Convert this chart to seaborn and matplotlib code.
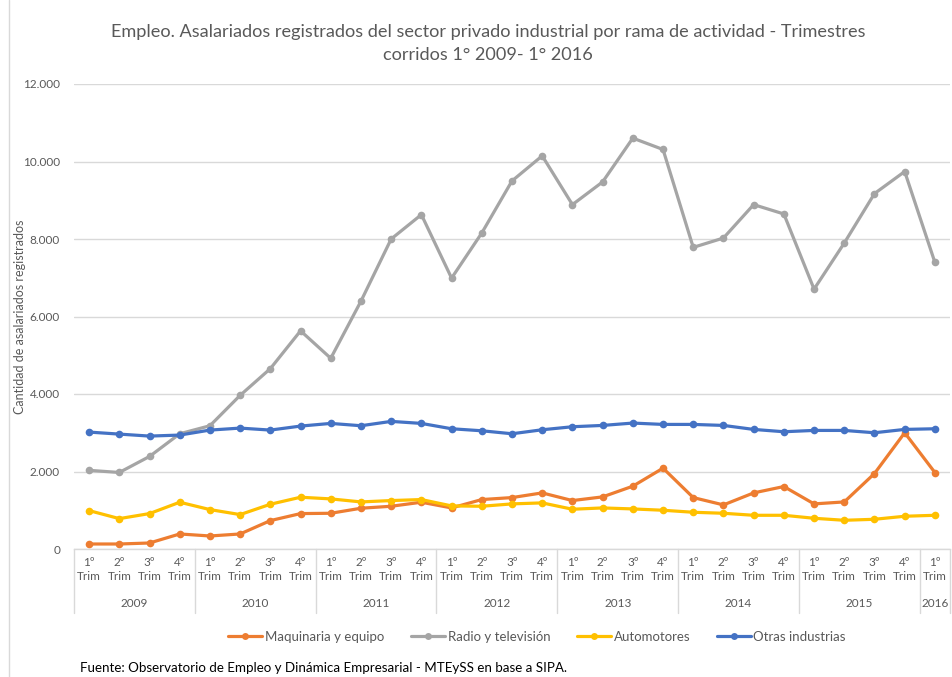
import numpy as np
import pandas as pd
import seaborn as sns
import matplotlib.pyplot as plt
from matplotlib.lines import Line2D
import matplotlib.transforms as mtransforms

sns.set_theme(style='white')
plt.rcParams['font.family'] = ['Lato', 'DejaVu Sans']

# Data: quarters 1º 2009 .. 1º 2016
years = ['2009', '2010', '2011', '2012', '2013', '2014', '2015', '2016']
quarter_labels = ['1º\nTrim', '2º\nTrim', '3º\nTrim', '4º\nTrim'] * 7 + ['1º\nTrim']

maquinaria = [129, 129, 155, 388, 336, 388, 733, 914,
              922, 1052, 1103, 1207, 1060, 1276, 1327, 1448,
              1250, 1345, 1621, 2086, 1327, 1138, 1448, 1612,
              1164, 1215, 1948, 3000, 1974]
radio_tv = [2030, 1975, 2388, 2974, 3181, 3965, 4655, 5630,
            4922, 6396, 8000, 8629, 6991, 8155, 9499, 10146,
            8887, 9473, 10603, 10310, 7784, 8025, 8887, 8646,
            6706, 7896, 9172, 9741, 7396]
automotores = [991, 784, 914, 1207, 1017, 888, 1155, 1336,
               1293, 1215, 1250, 1276, 1112, 1103, 1164, 1190,
               1026, 1060, 1034, 1000, 948, 922, 870, 870,
               793, 741, 767, 845, 870]
otras = [3017, 2965, 2914, 2940, 3069, 3120, 3069, 3172,
         3241, 3181, 3293, 3241, 3103, 3051, 2974, 3077,
         3155, 3189, 3250, 3215, 3215, 3189, 3086, 3026,
         3060, 3060, 3000, 3086, 3103]

series_names = ['Maquinaria y equipo', 'Radio y televisión', 'Automotores', 'Otras industrias']
series_colors = ['#ED7D31', '#A5A5A5', '#FFC000', '#4472C4']

n = len(quarter_labels)
df = pd.DataFrame({
    'idx': list(range(n)) * 4,
    'valor': maquinaria + radio_tv + automotores + otras,
    'serie': [s for s in series_names for _ in range(n)],
})

fig = plt.figure(figsize=(9.52, 6.77), dpi=100)
ax = fig.add_axes([74 / 952, 128 / 677, 876 / 952, 465 / 677])

sns.lineplot(data=df, x='idx', y='valor', hue='serie', hue_order=series_names,
             palette=series_colors, marker='o', markersize=5.5, markeredgewidth=0,
             linewidth=2.3, legend=False, ax=ax)

text_grey = '#595959'
grid_grey = '#D9D9D9'

ax.set_xlim(-0.5, n - 0.5)
ax.set_ylim(0, 12000)
ax.set_yticks(np.arange(0, 12001, 2000))
ax.set_yticklabels([f'{v:,}'.replace(',', '.') for v in range(0, 12001, 2000)])
ax.yaxis.grid(True, color=grid_grey, linewidth=1)
ax.set_axisbelow(True)
for side in ['top', 'right', 'left']:
    ax.spines[side].set_visible(False)
ax.spines['bottom'].set_color(grid_grey)
ax.spines['bottom'].set_linewidth(1)

ax.set_xticks(range(n))
ax.set_xticklabels(quarter_labels, linespacing=1.25)
ax.tick_params(axis='x', length=0, pad=6, labelsize=8.5, labelcolor=text_grey)
ax.tick_params(axis='y', length=0, pad=10, labelsize=8.5, labelcolor=text_grey)
ax.set_xlabel('')
ax.set_ylabel('Cantidad de asalariados registrados', fontsize=9, color=text_grey, labelpad=-2)

# year row of the category axis
trans = mtransforms.blended_transform_factory(ax.transData, ax.transAxes)
year_pos = [1.5 + 4 * k for k in range(7)] + [28]
for yr, xp in zip(years, year_pos):
    ax.text(xp, -0.118, yr, transform=trans, ha='center', va='center',
            fontsize=8.5, color=text_grey)
for xs in [-0.5 + 4 * k for k in range(8)] + [n - 0.5]:
    ax.plot([xs, xs], [0, -0.137], transform=trans, color=grid_grey,
            linewidth=1, clip_on=False)

fig.suptitle('Empleo. Asalariados registrados del sector privado industrial por rama de actividad - Trimestres\n'
             'corridos 1° 2009- 1° 2016', x=488 / 952, y=1 - 24 / 677, va='top',
             fontsize=13.1, color=text_grey, linespacing=1.55)

handles = [Line2D([0], [0], color=c, linewidth=2.3, marker='o', markersize=5, markeredgewidth=0)
           for c in series_colors]
fig.legend(handles, series_names, loc='center', ncol=4, frameon=False,
           bbox_to_anchor=(537 / 952, 1 - 637 / 677), fontsize=9.5,
           handlelength=2.6, handletextpad=0.2, columnspacing=2.0,
           labelcolor=text_grey)

fig.text(80 / 952, 1 - 668 / 677, 'Fuente: Observatorio de Empleo y Dinámica Empresarial - MTEySS en base a SIPA.',
         fontsize=9.6, color='black', va='center', ha='left')

fig.add_artist(Line2D([9 / 952, 9 / 952], [0, 1], color=grid_grey, linewidth=1))

fig.savefig('out.png', dpi=100)
